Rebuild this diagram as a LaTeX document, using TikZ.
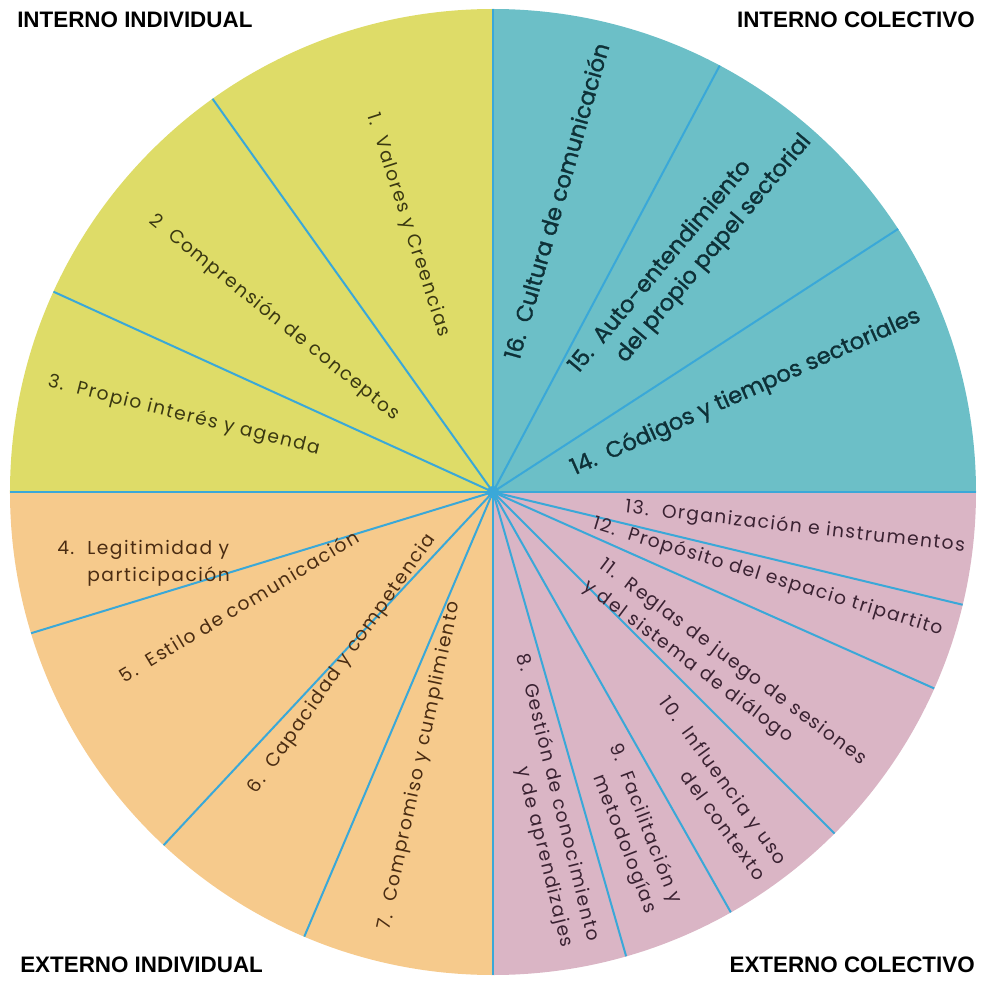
\documentclass[tikz,border=0pt]{standalone}
\usepackage{fontspec}
\setmainfont{Poppins}
\newfontfamily\headfont{Liberation Sans}
\usetikzlibrary{positioning}
\definecolor{myyellow}{HTML}{DEDC68}
\definecolor{myteal}{HTML}{6CBFC7}
\definecolor{myorange}{HTML}{F6CA8C}
\definecolor{mypink}{HTML}{DAB5C5}
\definecolor{myline}{HTML}{3AA8D8}
\definecolor{ytext}{HTML}{3A3812}
\definecolor{ttext}{HTML}{0E3138}
\definecolor{otext}{HTML}{4A2C12}
\definecolor{ptext}{HTML}{3A2232}
\tikzset{
  spoke/.style={myline, line width=1.5pt},
  lbl/.style={font=\fontsize{14}{20}\selectfont\addfontfeature{LetterSpace=8}, inner sep=0pt},
  biglbl/.style={font=\fontsize{17}{22}\selectfont\addfontfeature{FakeBold=1.2}, inner sep=0pt},
  head/.style={font=\headfont\bfseries\fontsize{16.8}{19}\selectfont, inner sep=0pt},
}
\begin{document}
\begin{tikzpicture}[x=0.75pt, y=0.75pt]
			\useasboundingbox (-493,-490) rectangle (489,492);
			\coordinate (c) at (0,0);
			% quadrants
			\fill[myteal] (c) -- (0:483) arc[start angle=0, end angle=90, radius=483] -- cycle;
			\fill[myyellow] (c) -- (90:483) arc[start angle=90, end angle=180, radius=483] -- cycle;
			\fill[myorange] (c) -- (180:483) arc[start angle=180, end angle=270, radius=483] -- cycle;
			\fill[mypink] (c) -- (270:483) arc[start angle=270, end angle=360, radius=483] -- cycle;
			\foreach \a in {0,33,62,90,125.5,155.5,180,197,227,247,270,286,299.5,315,336,346.5}
				\draw[spoke] (c) -- (\a:483);
			\fill[myline] (c) circle (6);
			% interno individual
			\node[lbl, ytext, rotate=-72, anchor=west] (s1) at (-121,378) {1.\ \ Valores y Creencias};
			\node[lbl, ytext, rotate=-39, anchor=east] (s2) at (-96,75) {2\ \ Comprensión de conceptos};
			\node[lbl, ytext, rotate=-14, anchor=west] (s3) at (-445,110) {3.\ \ Propio interés y agenda};
			% interno colectivo
			\node[biglbl, ttext, rotate=74] (s16) at (63,291) {16.\ \ Cultura de comunicación};
			\node[biglbl, ttext, rotate=50, anchor=west, align=left] (s15) at (92,112) {15.\ \ Auto-entendimiento\\\phantom{15.\ \ }del propio papel sectorial};
			\node[biglbl, ttext, rotate=24, anchor=west] (s14) at (79,22) {14.\ \ Códigos y tiempos sectoriales};
			% externo individual
			\node[lbl, otext, anchor=west, align=left] (s4) at (-436,-71) {4.\ \ Legitimidad y\\\phantom{4.\ \ }participación};
			\node[lbl, otext, rotate=31, anchor=west] (s5) at (-372,-185) {5.\ \ Estilo de comunicación};
			\node[lbl, otext, rotate=55, anchor=west] (s6) at (-240,-300) {6.\ \ Capacidad y competencia};
			\node[lbl, otext, rotate=78, anchor=west] (s7) at (-108,-438) {7.\ \ Compromiso y cumplimiento};
			% externo colectivo
			\node[lbl, ptext, rotate=-6.5, anchor=west] (s13) at (132,-16) {13.\ \ Organización e instrumentos};
			\node[lbl, ptext, rotate=-17, anchor=west] (s12) at (100,-32) {12.\ \ Propósito del espacio tripartito};
			\node[lbl, ptext, rotate=-37, anchor=west, align=left] (s11) at (100,-82) {11.\ \ Reglas de juego de sesiones\\y del sistema de diálogo};
			\node[lbl, ptext, rotate=-54, anchor=east, align=right] (s10) at (280,-378) {10.\ \ Influencia y uso\\del contexto};
			\node[lbl, ptext, rotate=-69, anchor=east, align=right] (s9) at (170,-416) {9.\ \ Facilitación y\\metodologías};
			\node[lbl, ptext, rotate=-76, anchor=east, align=right] (s8) at (87,-452) {8.\ \ Gestión de conocimiento\\y de aprendizajes};
			% corner headings
			\node[head, anchor=west] (ii) at (-476,472) {INTERNO INDIVIDUAL};
			\node[head, anchor=east] (ic) at (482,472) {INTERNO COLECTIVO};
			\node[head, anchor=west] (ei) at (-473,-473) {EXTERNO INDIVIDUAL};
			\node[head, anchor=east] (ec) at (482,-473) {EXTERNO COLECTIVO};
		\end{tikzpicture}
\end{document}
